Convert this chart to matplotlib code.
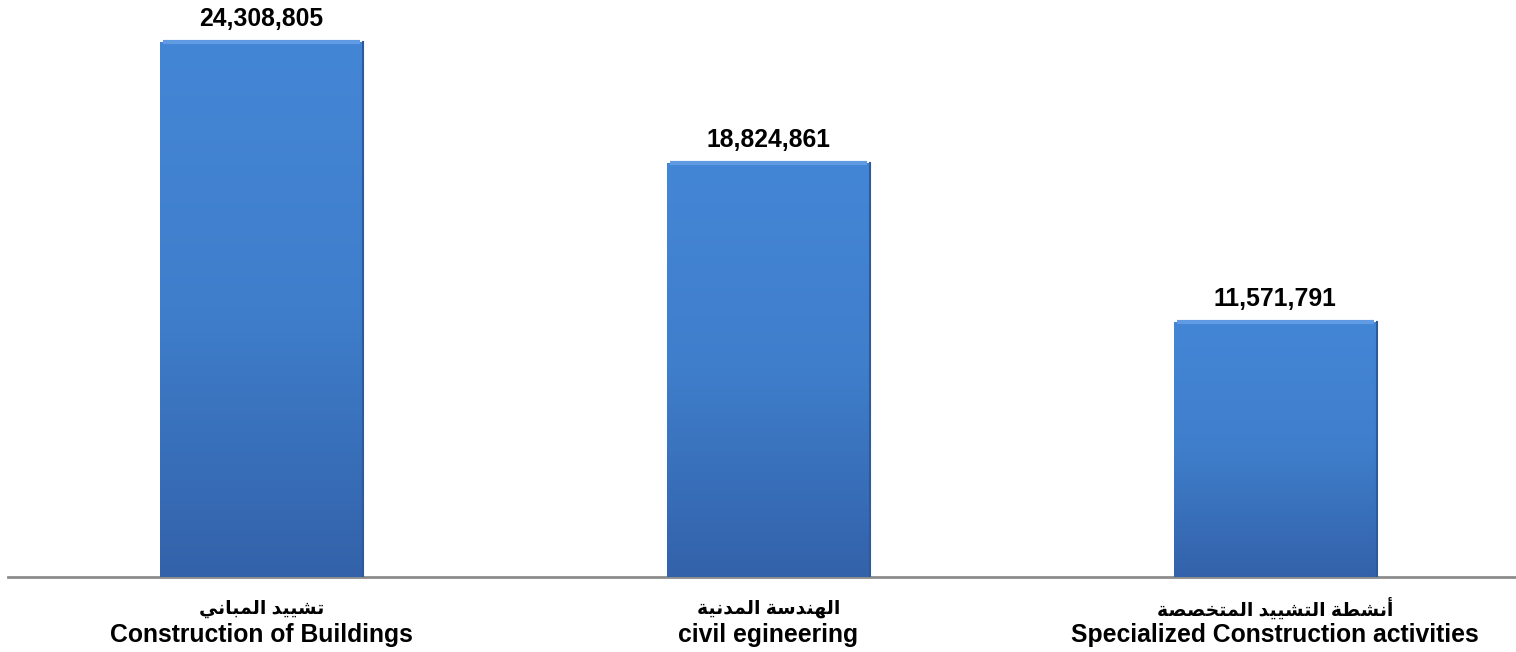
import numpy as np
import matplotlib
matplotlib.use('Agg')
import matplotlib.pyplot as plt
from matplotlib.colors import LinearSegmentedColormap

# data
labels_ar = ['تشييد المباني', 'الهندسة المدنية', 'أنشطة التشييد المتخصصة']
labels_en = ['Construction of Buildings', 'civil egineering',
             'Specialized Construction activities']
values = [24308805, 18824861, 11571791]

# minimal arabic shaping (presentation forms B), matplotlib has no shaper
# letter -> (isolated form, dual joining?)
FORMS = {
    'ا': (0xFE8D, False), 'أ': (0xFE83, False), 'ب': (0xFE8F, True),
    'ة': (0xFE93, False), 'ت': (0xFE95, True), 'خ': (0xFEA5, True),
    'د': (0xFEA9, False), 'س': (0xFEB1, True), 'ش': (0xFEB5, True),
    'ص': (0xFEB9, True), 'ط': (0xFEC1, True), 'ل': (0xFEDD, True),
    'م': (0xFEE1, True), 'ن': (0xFEE5, True), 'ه': (0xFEE9, True),
    'ي': (0xFEF1, True),
}


def shape(s):
    out = []
    for i, ch in enumerate(s):
        if ch not in FORMS:
            out.append(ch)
            continue
        base, dual = FORMS[ch]
        prev = s[i - 1] if i > 0 else ''
        nxt = s[i + 1] if i < len(s) - 1 else ''
        jp = prev in FORMS and FORMS[prev][1]
        jn = dual and nxt in FORMS
        if jp and jn:
            off = 3
        elif jp:
            off = 1
        elif jn:
            off = 2
        else:
            off = 0
        out.append(chr(base + off))
    return ''.join(out[::-1])


fams = ['Liberation Sans', 'DejaVu Sans']
plt.rcParams['font.family'] = fams
plt.rcParams['font.weight'] = 'bold'

fig = plt.figure(figsize=(15.16, 6.52), dpi=100)
ax = fig.add_axes([8 / 1516, 75 / 652, 1 - 8 / 1516, 1 - 75 / 652])

x = np.arange(len(values))
bars = ax.bar(x, values, width=0.4, color='#3F7ECB', zorder=2)

# vertical gradient inside each bar
cmap = LinearSegmentedColormap.from_list('b', ['#3362AA', '#3F7ECB', '#4486D6'])
grad = np.linspace(0, 1, 256).reshape(-1, 1)
for b in bars:
    x0, w, h = b.get_x(), b.get_width(), b.get_height()
    im = ax.imshow(grad, cmap=cmap, origin='lower', aspect='auto',
                   extent=(x0, x0 + w, 0, h), zorder=3)
    im.set_clip_path(b)
    ax.plot([x0 + 0.006, x0 + w - 0.006], [h, h], color='#5F9AE2',
            lw=3, solid_capstyle='butt', zorder=4)
    ax.plot([x0 + w, x0 + w], [0, h], color='#2D5A9A', lw=1.5, zorder=4)

for i, v in enumerate(values):
    ax.annotate(f'{v:,}', xy=(i, v), xytext=(0, 16.5),
                textcoords='offset points', ha='center', va='center',
                fontsize=17.8, fontweight='bold', family=fams)
    ax.annotate(shape(labels_ar[i]), xy=(i, 0), xytext=(0, -23),
                xycoords=('data', 'axes fraction'), textcoords='offset points',
                ha='center', va='center', fontsize=13.5, fontweight='bold',
                family=fams)
    ax.annotate(labels_en[i], xy=(i, 0), xytext=(0, -42),
                xycoords=('data', 'axes fraction'), textcoords='offset points',
                ha='center', va='center', fontsize=17.8, fontweight='bold',
                family=fams)

ax.set_xlim(-0.5, 2.475)
ax.set_ylim(0, 26.22e6)
for s in ['top', 'right', 'left']:
    ax.spines[s].set_visible(False)
ax.spines['bottom'].set_color('#8C8C8C')
ax.spines['bottom'].set_linewidth(2)
ax.set_xticks([])
ax.set_yticks([])

fig.savefig('out.png', dpi=100)
plt.close(fig)
